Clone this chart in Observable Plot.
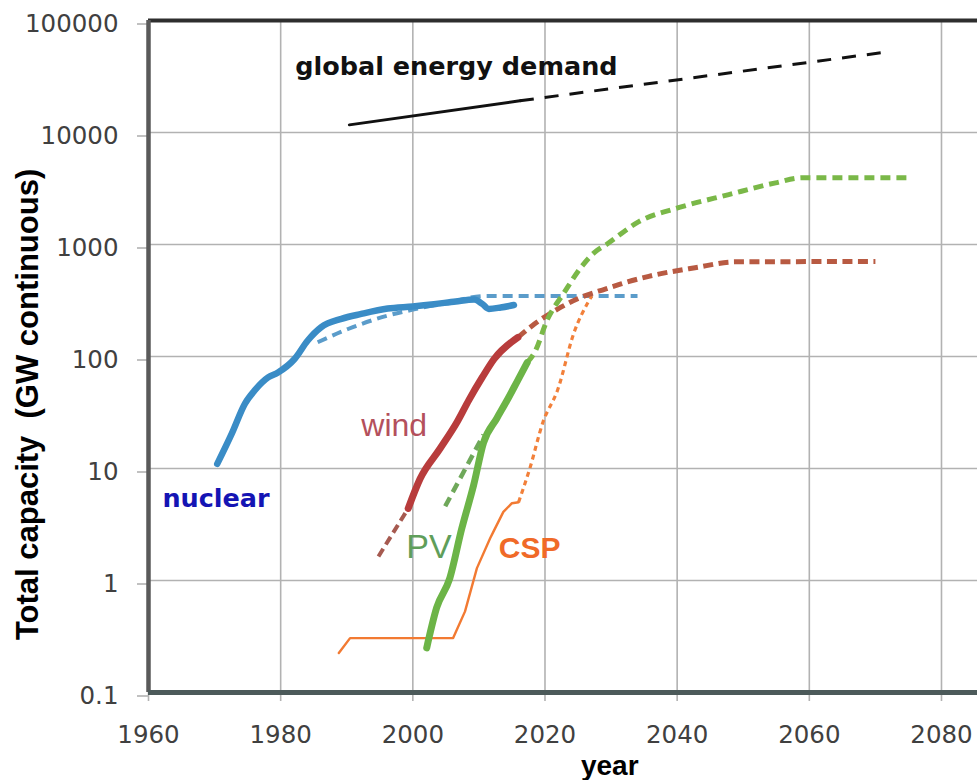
<!DOCTYPE html>
<html>
<head>
<meta charset="utf-8">
<script src="https://cdn.jsdelivr.net/npm/d3@7"></script>
<script src="https://cdn.jsdelivr.net/npm/@observablehq/plot@0.6"></script>
<style>
  html, body { margin: 0; padding: 0; background: #fff; }
  #chart svg { display: block; }
</style>
</head>
<body>
<div id="chart"></div>
<script>
// ---- tick values ----
const xTicks = [1960, 1980, 2000, 2020, 2040, 2060, 2080];
const yTicks = [0.1, 1, 10, 100, 1000, 10000, 100000];

// ---- series (year, GW) ----
const demandHistory = [[1990.4, 11700], [2016.2, 19200]];
const demandProjection = [[2016.2, 19200], [2072.2, 52800]];

const nuclearHistory = [[1970.4, 11], [1972.6, 20.5], [1974.6, 38], [1976.1, 50], [1978.1, 65],
  [1979.6, 72], [1982.1, 95], [1984.1, 139], [1986.1, 182], [1989.2, 217], [1992.2, 240],
  [1996.2, 268], [2000, 280], [2003.2, 293], [2006.5, 310], [2009.3, 322], [2010.5, 295],
  [2011.5, 266], [2013.3, 274], [2015.3, 288]];
const nuclearProjection = [[1985.6, 134], [1990.2, 176], [1996.2, 232], [2000, 262], [2005, 300],
  [2011, 347], [2034, 347]];

const windEarly = [[1994.8, 1.64], [1999.3, 4.4]];
const windHistory = [[1999.3, 4.4], [2001.1, 8.1], [2004.1, 15], [2006.7, 26], [2008.5, 41],
  [2010.5, 65], [2012.3, 95], [2015.9, 148]];
const windProjection = [[2015.9, 148], [2018.4, 195], [2021.9, 265], [2025.6, 340], [2029.1, 400],
  [2031.5, 445], [2035.7, 520], [2042.7, 620], [2048.8, 700], [2070, 705]];

const pvHistory = [[2002.1, 0.25], [2003.6, 0.57], [2005.6, 1.05], [2007.4, 2.9], [2009.2, 7.1],
  [2010.7, 17], [2012.7, 28], [2014.2, 40], [2015.8, 60], [2017.3, 88]];
const pvEarlyProjection = [[2004.9, 4.6], [2010.7, 20]];
const pvProjection = [[2017.3, 88], [2018.4, 108], [2020.4, 216], [2022.9, 372], [2025.5, 630],
  [2027.5, 850], [2029.3, 1000], [2034.2, 1600], [2040.2, 2130], [2047.8, 2790], [2054.9, 3550],
  [2058.9, 3940], [2075, 3940]];

const cspHistory = [[1988.8, 0.225], [1990.5, 0.306], [2006.1, 0.306], [2007.9, 0.53], [2009.7, 1.29],
  [2011.7, 2.38], [2012.2, 2.73], [2013.7, 4.1], [2015, 4.9], [2016, 5.0]];
const cspProjection = [[2016, 5.0], [2017.7, 10], [2019.7, 26], [2021.9, 50], [2024.4, 164],
  [2026.5, 303], [2027.1, 347]];

// ---- labels (year, GW position) ----
const seriesLabels = [
  {text: "global energy demand", year: 1982.2, value: 32300, color: "#111", size: 25.5, weight: "bold", font: "DejaVu Sans"},
  {text: "nuclear", year: 1962.1, value: 4.49, color: "#1414b4", size: 25.5, weight: "bold", font: "DejaVu Sans"},
  {text: "wind", year: 1992.2, value: 19.7, color: "#b4505c", size: 32, weight: "normal", font: "Liberation Sans"},
  {text: "PV", year: 1999.0, value: 1.6, color: "#5f9e5a", size: 34, weight: "normal", font: "Liberation Sans"},
  {text: "CSP", year: 2013.0, value: 1.6, color: "#f06a28", size: 30, weight: "bold", font: "Liberation Sans"}
];
const xTitle = "year";
const yTitle = "Total capacity  (GW continuous)";

const rows = (pts) => pts.map(([year, value]) => ({year, value}));

const lineOpts = (stroke, width, extra = {}) => ({
  x: "year", y: "value", stroke, strokeWidth: width, curve: "monotone-x",
  strokeLinecap: "round", strokeLinejoin: "round", ...extra
});

const chart = Plot.plot({
  width: 977,
  height: 780,
  marginTop: 20,
  marginLeft: 148,
  marginRight: 0,
  marginBottom: 88,
  style: {background: "#fff", fontFamily: "Liberation Sans, Arial, sans-serif"},
  x: {domain: [1960, 2085.45], axis: null},
  y: {type: "log", domain: [0.1, 100000], axis: null},
  marks: [
    Plot.gridX(xTicks, {stroke: "#b2b2b2", strokeOpacity: 1, strokeWidth: 1.6}),
    Plot.gridY(yTicks, {stroke: "#b2b2b2", strokeOpacity: 1, strokeWidth: 1.6}),
    Plot.axisX({ticks: xTicks, tickFormat: d => String(d), tickSize: 9, tickPadding: 24,
      fontSize: 24.5, fontFamily: "DejaVu Sans", stroke: "#b2b2b2", strokeWidth: 1.6, fill: "#404040", label: null}),
    Plot.axisY({ticks: yTicks, tickFormat: d => String(d), tickSize: 11, tickPadding: 19,
      fontSize: 24.5, fontFamily: "DejaVu Sans", stroke: "#b2b2b2", strokeWidth: 1.6, fill: "#404040", dy: 3.5, label: null}),
    // frame
    Plot.ruleY([100000], {stroke: "#2e2e2e", strokeWidth: 4}),
    Plot.ruleX([1960], {stroke: "#5a5a5a", strokeWidth: 4.5}),
    Plot.ruleY([0.1], {stroke: "#4c5a5a", strokeWidth: 5}),
    // demand
    Plot.line(rows(demandHistory), lineOpts("#111", 3, {curve: "linear"})),
    Plot.line(rows(demandProjection), lineOpts("#111", 3, {curve: "linear", strokeDasharray: "14,11", strokeLinecap: "butt"})),
    // nuclear
    Plot.line(rows(nuclearProjection), lineOpts("#5b9cca", 4, {strokeDasharray: "10,6", strokeLinecap: "butt"})),
    Plot.line(rows(nuclearHistory), lineOpts("#3a8cc6", 6.5)),
    // CSP
    Plot.line(rows(cspHistory), lineOpts("#f27a32", 2.4, {curve: "linear"})),
    Plot.line(rows(cspProjection), lineOpts("#f2803a", 3.2, {strokeDasharray: "5,4", strokeLinecap: "butt"})),
    // wind
    Plot.line(rows(windEarly), lineOpts("#a65a50", 4, {curve: "linear", strokeDasharray: "9,5", strokeLinecap: "butt"})),
    Plot.line(rows(windProjection), lineOpts("#b85a42", 5, {strokeDasharray: "10,5.5", strokeLinecap: "butt"})),
    Plot.line(rows(windHistory), lineOpts("#b83c3c", 7)),
    // PV
    Plot.line(rows(pvEarlyProjection), lineOpts("#6fa85a", 4.5, {curve: "linear", strokeDasharray: "10,6", strokeLinecap: "butt"})),
    Plot.line(rows(pvProjection), lineOpts("#7ab848", 5, {strokeDasharray: "10,6", strokeLinecap: "butt"})),
    Plot.line(rows(pvHistory), lineOpts("#6cb447", 7)),
    // labels
    ...seriesLabels.map(d => Plot.text([d], {
      x: "year", y: "value", text: "text", textAnchor: "start", lineAnchor: "bottom",
      fill: d.color, fontSize: d.size, fontWeight: d.weight, fontFamily: d.font
    })),
    Plot.text([xTitle], {x: [2029.8], frameAnchor: "bottom", dy: 82, lineAnchor: "bottom",
      text: d => d, fontSize: 28, fontWeight: "bold", fill: "#000", textAnchor: "middle"}),
    Plot.text([yTitle], {y: [37.3], frameAnchor: "left", dx: -111, rotate: -90, lineAnchor: "bottom",
      text: d => d, fontSize: 31, fontWeight: "bold", fill: "#000", textAnchor: "middle"})
  ]
});

document.getElementById("chart").appendChild(chart);
</script>
</body>
</html>
